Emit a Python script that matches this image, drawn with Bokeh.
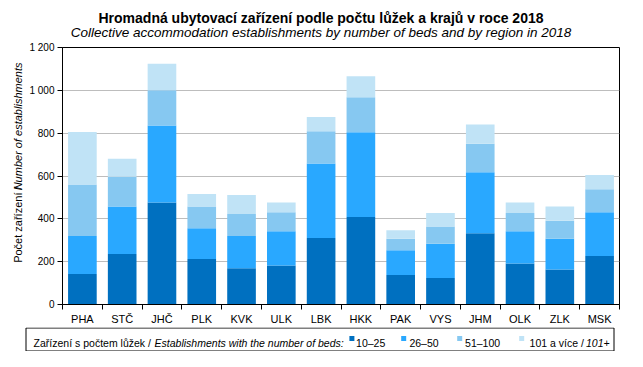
from math import pi
from bokeh.plotting import figure
from bokeh.layouts import column, row
from bokeh.models import ColumnDataSource, FixedTicker, Range1d
from bokeh.core.properties import value
from bokeh.embed import file_html
from bokeh.resources import INLINE

# ---------------- data ----------------
regions = ["PHA", "STČ", "JHČ", "PLK", "KVK", "ULK", "LBK", "HKK", "PAK", "VYS", "JHM", "OLK", "ZLK", "MSK"]
beds_10_25 = [142, 236, 476, 213, 169, 182, 311, 409, 138, 124, 333, 191, 164, 227]
beds_26_50 = [178, 222, 360, 143, 151, 160, 347, 395, 115, 160, 285, 151, 143, 204]
beds_51_100 = [240, 138, 164, 102, 102, 89, 151, 164, 54, 80, 133, 85, 84, 107]
beds_101_plus = [245, 84, 124, 58, 89, 45, 67, 98, 40, 63, 89, 49, 67, 67]

series_keys = ["b1", "b2", "b3", "b4"]
series_names = ["10–25", "26–50", "51–100", "101 a více /"]
series_colors = ["#0070C0", "#29A8FF", "#86C8F1", "#C0E3F6"]

y_ticks = [0, 200, 400, 600, 800, 1000, 1200]
y_tick_labels = ["0", "200", "400", "600", "800", "1 000", "1 200"]

title_cz = "Hromadná ubytovací zařízení podle počtu lůžek a krajů v roce 2018"
title_en = "Collective accommodation establishments by number of beds and by region in 2018"
ylabel_cz = "Počet zařízení / "
ylabel_en = "Number of establishments"
legend_cz = "Zařízení s počtem lůžek / "
legend_en = "Establishments with the number of beds:"
legend_last_en = "101+"

FONT = "Liberation Sans"
W, H = 627, 351
TITLE_H = 40
MAIN_H = 287
LEG_H = H - TITLE_H - MAIN_H
YLAB_W = 24


def canvas_fig(w, h):
    f = figure(width=w, height=h, output_backend="svg", toolbar_location=None, title=None,
               x_range=Range1d(0, w), y_range=Range1d(h, 0),
               x_axis_location=None, y_axis_location=None,
               min_border=0, min_border_left=0, min_border_right=0, min_border_top=0, min_border_bottom=0)
    f.xgrid.visible = False
    f.ygrid.visible = False
    f.outline_line_color = None
    f.background_fill_color = "white"
    f.border_fill_color = "white"
    return f


def txt(f, s, x, y, size, style="normal", align="left", baseline="alphabetic", angle=0):
    f.text(x=[x], y=[y], text=[s], text_font=value(FONT), text_font_size=value(size),
           text_font_style=style, text_align=align, text_baseline=baseline, angle=angle,
           text_color="black")


# ---------------- title ----------------
tf = canvas_fig(W, TITLE_H)
txt(tf, title_cz, 320.5, 17.5, "14px", style="bold", align="center")
txt(tf, title_en, 320.5, 32, "13.5px", style="italic", align="center")

# ---------------- y label ----------------
yf = canvas_fig(YLAB_W, MAIN_H)
txt(yf, ylabel_cz, 17.5, 240.5, "11px", baseline="middle", angle=pi / 2)
txt(yf, ylabel_en, 17.5, 159.5, "11px", style="italic", baseline="middle", angle=pi / 2)

# ---------------- main chart ----------------
xs = [i + 0.5 for i in range(len(regions))]
source = ColumnDataSource(dict(x=xs, b1=beds_10_25, b2=beds_26_50, b3=beds_51_100, b4=beds_101_plus))

p = figure(width=W - YLAB_W, height=MAIN_H, output_backend="svg", toolbar_location=None, title=None,
           x_range=Range1d(0, len(regions)), y_range=Range1d(0, 1200),
           min_border_left=38, min_border_right=8, min_border_top=7, min_border_bottom=23)
p.background_fill_color = "white"
p.border_fill_color = "white"
p.outline_line_color = "black"
p.outline_line_width = 1

p.vbar_stack(series_keys, x="x", width=0.72, color=series_colors, line_color=None, source=source)

xa = p.xaxis[0]
xa.ticker = FixedTicker(ticks=xs, minor_ticks=list(range(len(regions) + 1)))
xa.major_label_overrides = {x: r for x, r in zip(xs, regions)}
xa.major_tick_line_color = None
xa.major_tick_out = 0
xa.major_tick_in = 0
xa.minor_tick_line_color = "black"
xa.minor_tick_out = 5
xa.minor_tick_in = 0
xa.major_label_standoff = 3
xa.major_label_text_font = FONT
xa.major_label_text_font_size = "11px"
xa.major_label_text_color = "black"
xa.axis_line_color = "black"

ya = p.yaxis[0]
ya.ticker = FixedTicker(ticks=y_ticks)
ya.major_label_overrides = {t: l for t, l in zip(y_ticks, y_tick_labels)}
ya.major_tick_out = 5
ya.major_tick_in = 0
ya.minor_tick_line_color = None
ya.major_label_standoff = 3
ya.major_label_text_font = FONT
ya.major_label_text_font_size = "10px"
ya.major_label_text_color = "black"
ya.axis_line_color = "black"

p.xgrid.visible = False
p.ygrid.grid_line_color = "#BDBDBD"
p.ygrid.grid_line_width = 1

# ---------------- legend ----------------
lf = canvas_fig(W, LEG_H)
lf.quad(left=[25.5], right=[613.5], top=[0.5], bottom=[LEG_H - 0.5], fill_color=None, line_color="black", line_width=1)
BASE = 15.5
txt(lf, legend_cz, 33.1, BASE, "10.5px")
txt(lf, legend_en, 154.1, BASE, "10.5px", style="italic")
sq_x = [351.4, 403.2, 459.2, 521.2]
tx_x = [355.6, 408.9, 464.6, 529.1]
for sx, tx, name, col in zip(sq_x, tx_x, series_names, series_colors):
    lf.quad(left=[sx - 2.5], right=[sx + 2.5], top=[BASE - 7], bottom=[BASE - 2],
            fill_color=col, line_color=None)
    txt(lf, name, tx, BASE, "10.5px")
txt(lf, legend_last_en, 585.5, BASE, "10.5px", style="italic")

layout = column(tf, row(yf, p), lf)
open("out.html", "w").write(file_html(layout, INLINE))
